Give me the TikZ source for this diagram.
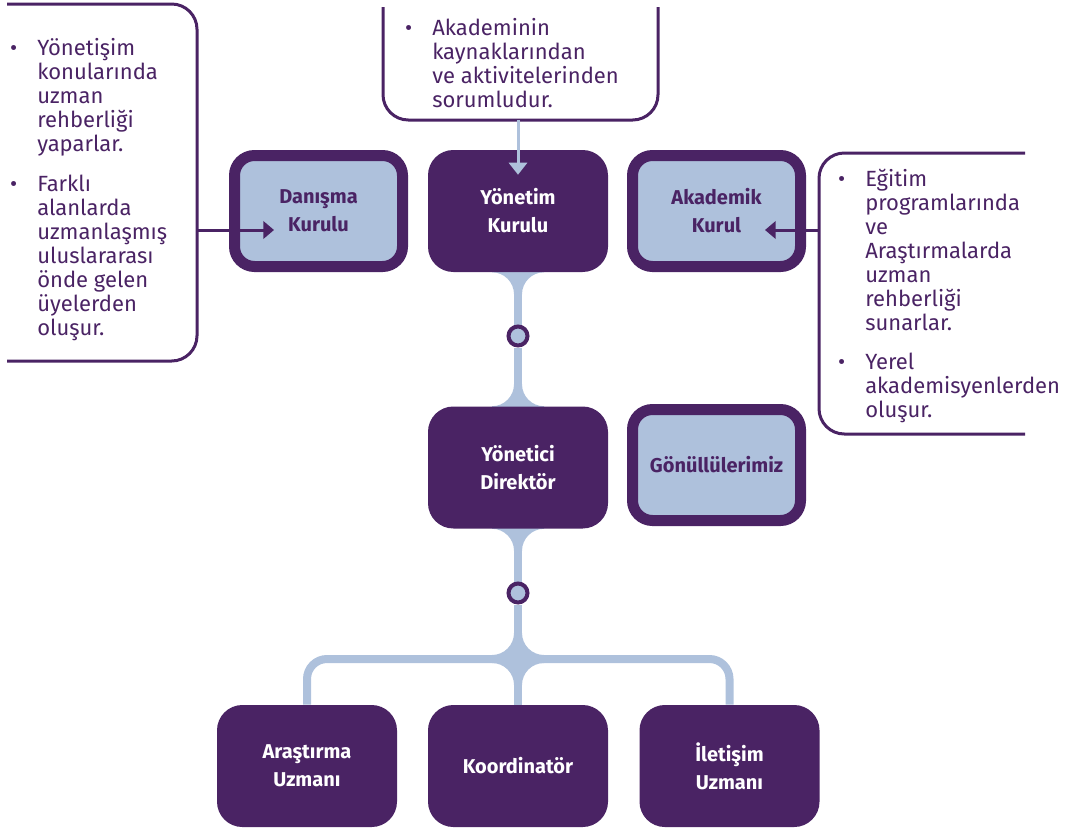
\documentclass[tikz,border=0pt]{standalone}
\usepackage{fontspec}
\setmainfont{Fira Sans}
\usepackage{tikz}
\usetikzlibrary{arrows.meta, calc, positioning, backgrounds}
\definecolor{kmor}{HTML}{4A2364}
\definecolor{kmavi}{HTML}{AEC1DC}
\newcommand\notefont{\fontsize{16.5}{18}\selectfont}
\newcommand\boxfont{\bfseries\fontsize{15}{21}\selectfont}
\newcommand\blt{\llap{\textbullet\hspace{15pt}}}

\begin{document}
\begin{tikzpicture}[x=0.75pt,y=-0.75pt,
	koyu/.style={fill=kmor,text=white,rounded corners=19pt,minimum width=135pt,minimum height=91.5pt,inner sep=0pt,align=center,font=\boxfont},
	acik/.style={fill=kmavi,draw=kmor,line width=8.25pt,text=kmor,rounded corners=15pt,minimum width=126pt,minimum height=83.25pt,inner sep=0pt,align=center,font=\boxfont},
	cerceve/.style={draw=kmor,line width=2.25pt,rounded corners=19pt},
	aciklama/.style={text=kmor,align=left,anchor=base west,inner sep=0pt,font=\notefont},
	okmor/.style={draw=kmor,line width=2.25pt,-{Triangle[length=8pt,width=13pt]}},
	okmavi/.style={draw=kmavi,line width=2.25pt,-{Triangle[length=9pt,width=13.5pt]}},
	halka/.style={circle,draw=kmor,fill=kmavi,line width=3pt,minimum size=14.25pt,inner sep=0pt},
	baglanti/.style={draw=kmavi,line width=6pt},
	genis/.pic={\fill[kmavi] (-26,-1) -- (-26,0) .. controls (-13.9,0) and (-4,9.9) .. (-4,22) -- (4,22) .. controls (4,9.9) and (13.9,0) .. (26,0) -- (26,-1) -- cycle;}]
	\useasboundingbox (0,0) rectangle (1073,828);

	\node[acik] (danisma) at (318.5,211) {Danışma\\Kurulu};
	\node[koyu] (yonetim) at (518,211) {Yönetim\\Kurulu};
	\node[acik] (akademik) at (716.5,211) {Akademik\\Kurul};
	\node[koyu] (yonetici) at (518,467.5) {Yönetici\\Direktör};
	\node[acik] (gonullu) at (716.5,465) {Gönüllülerimiz};
	\node[koyu] (arastirma) at (307,766) {Araştırma\\Uzmanı};
	\node[koyu] (koord) at (518,766) {Koordinatör};
	\node[koyu] (iletisim) at (729.5,766) {İletişim\\Uzmanı};
	\node[halka] (halka1) at (518,336) {};
	\node[halka] (halka2) at (518,593) {};
	\coordinate (bus) at (0,659);

	\begin{scope}[on background layer]
		\draw[baglanti] (yonetim.south) -- (halka1) -- (yonetici.north);
		\draw[baglanti] (yonetici.south) -- (halka2) -- (koord.north);
		\draw[baglanti,rounded corners=15pt] (arastirma.north) |- (iletisim.north |- bus) -- (iletisim.north);
		\pic at (yonetim.south) {genis};
		\pic[yscale=-1] at (yonetici.north) {genis};
		\pic at (yonetici.south) {genis};
		\pic[yscale=-1] at ($(koord.north |- bus)+(0,-4)$) {genis};
		\pic at ($(koord.north |- bus)+(0,4)$) {genis};
	\end{scope}

	\draw[cerceve] (7,4) -| (197,361) -- (7,361);
	\draw[cerceve] (383,7) |- (658,120) -- (658,7);
	\draw[cerceve] (1025,153) -| (819,434) -- (1025,434);
	\coordinate (solcer) at (197,230);
	\coordinate (ustcer) at (518,120);
	\coordinate (sagcer) at (819,230);

	\node[aciklama] (sol1) at (37,151) {\blt Yönetişim\\konularında\\uzman\\rehberliği\\yaparlar.};
	\node[aciklama] (sol2) at (37,335) {\blt Farklı\\alanlarda\\uzmanlaşmış\\uluslararası\\önde gelen\\üyelerden\\oluşur.};
	\node[aciklama] (ust1) at (432,107) {\blt Akademinin\\kaynaklarından\\ve aktivitelerinden\\sorumludur.};
	\node[aciklama] (sag1) at (865,330) {\blt Eğitim\\programlarında\\ve\\Araştırmalarda\\uzman\\rehberliği\\sunarlar.};
	\node[aciklama] (sag2) at (865,417) {\blt Yerel\\akademisyenlerden\\oluşur.};

	\draw[okmor] (solcer) -- ($(danisma.west |- solcer)+(45,0)$);
	\draw[okmor] (sagcer) -- ($(akademik.east |- sagcer)+(-41,0)$);
	\draw[okmavi] (ustcer) -- ($(yonetim.north)+(0,25)$);
\end{tikzpicture}
\end{document}
